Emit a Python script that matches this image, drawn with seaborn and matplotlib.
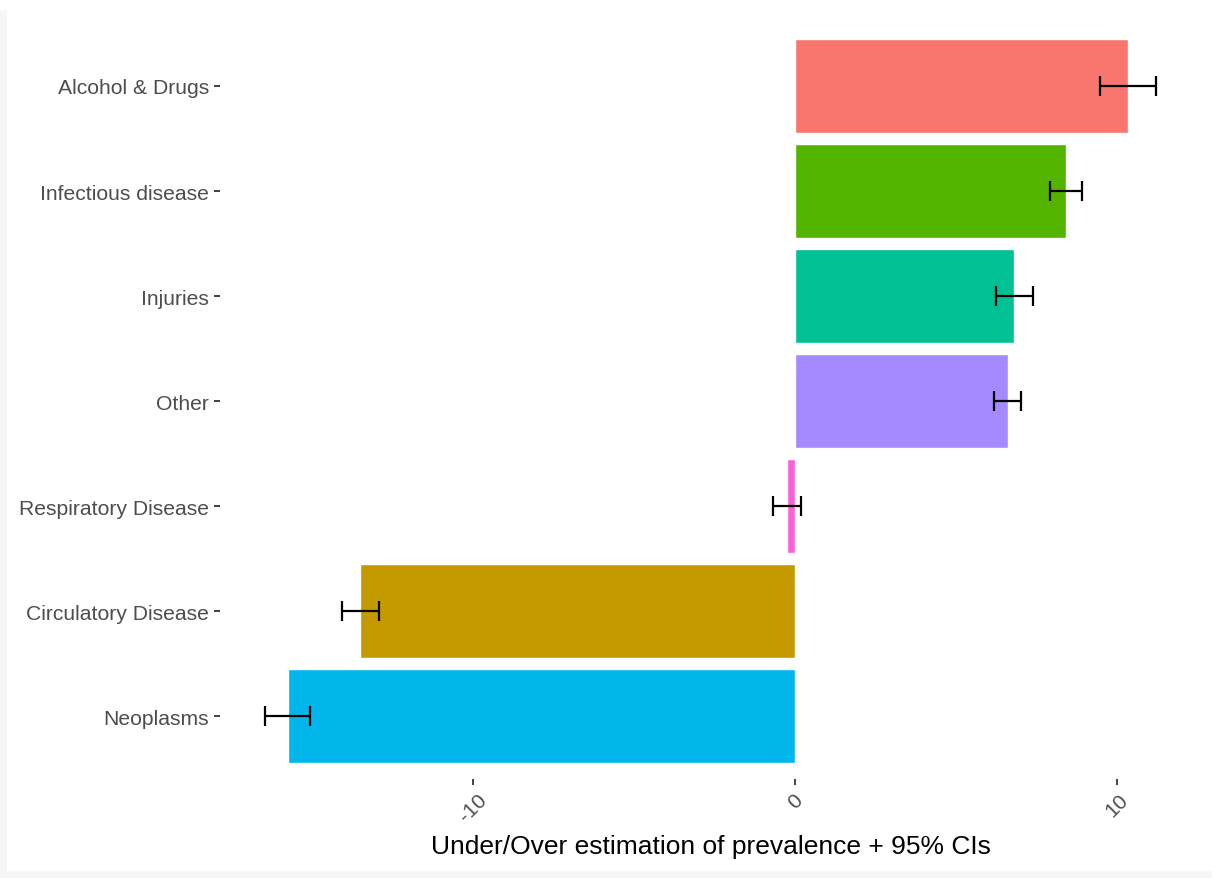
import matplotlib
matplotlib.use("Agg")
import matplotlib.pyplot as plt
import seaborn as sns
import pandas as pd
from matplotlib.patches import Rectangle

# Cause groups, ordered from largest over-estimation to largest under-estimation
categories = ["Alcohol & Drugs", "Infectious disease", "Injuries", "Other",
              "Respiratory Disease", "Circulatory Disease", "Neoplasms"]
estimate = [10.33, 8.43, 6.81, 6.63, -0.25, -13.53, -15.77]
ci_low = [9.46, 7.93, 6.25, 6.19, -0.68, -14.09, -16.49]
ci_high = [11.23, 8.90, 7.40, 7.03, 0.17, -12.94, -15.07]

# ggplot-style hue colours, assigned alphabetically
palette = {
    "Alcohol & Drugs": "#F8766D",
    "Circulatory Disease": "#C49A00",
    "Infectious disease": "#53B400",
    "Injuries": "#00C094",
    "Neoplasms": "#00B6EB",
    "Other": "#A58AFF",
    "Respiratory Disease": "#FB61D7",
}

df = pd.DataFrame({"cause": categories, "est": estimate,
                   "lo": ci_low, "hi": ci_high})

sns.set_theme(style="white")
plt.rcParams["font.family"] = ["Liberation Sans", "DejaVu Sans"]

fig = plt.figure(figsize=(12.12, 8.79), dpi=100)
fig.patch.set_facecolor("white")
ax = fig.add_axes([0.1815, 0.1126, 0.8095, 0.8601])

sns.barplot(data=df, x="est", y="cause", hue="cause", order=categories,
            palette=palette, dodge=False, width=0.9, legend=False,
            errorbar=None, saturation=1, ax=ax)

# 95% confidence intervals
pos = list(range(len(categories)))
xerr = [[e - l for e, l in zip(df["est"], df["lo"])],
        [h - e for e, h in zip(df["est"], df["hi"])]]
ax.errorbar(df["est"], pos, xerr=xerr, fmt="none", ecolor="black",
            elinewidth=1.6, capsize=7.5, capthick=1.6, zorder=5)

lo_all, hi_all = min(ci_low), max(ci_high)
pad = 0.05 * (hi_all - lo_all)
ax.set_xlim(lo_all - pad, hi_all + pad)
ax.set_ylim(len(categories) - 0.4, -0.6)

ax.set_xticks([-10, 0, 10])
ax.set_xticklabels(["-10", "0", "10"], rotation=45, ha="center", va="top")
ax.tick_params(axis="both", which="both", length=4.5, width=1.3,
               color="#333333", labelcolor="#4D4D4D", labelsize=15.2,
               pad=3.5, bottom=True, left=True)
for s in ax.spines.values():
    s.set_visible(False)
ax.grid(False)
ax.set_ylabel("")
ax.set_xlabel("Under/Over estimation of prevalence + 95% CIs",
              fontsize=19, color="black", labelpad=6)

# faint frame along the left and bottom edges of the image
fig.patches.append(Rectangle((0, 0), 7 / 1212, 868 / 879, transform=fig.transFigure,
                             facecolor="#f6f6f6", edgecolor="none", zorder=0))
fig.patches.append(Rectangle((0, 0), 1, 7 / 879, transform=fig.transFigure,
                             facecolor="#f6f6f6", edgecolor="none", zorder=0))

fig.savefig("out.png", dpi=100)
